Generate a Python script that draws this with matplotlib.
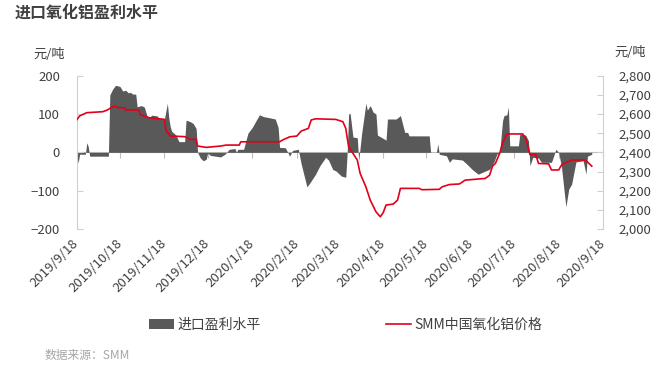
import matplotlib
matplotlib.use('Agg')
import matplotlib.pyplot as plt
import matplotlib.dates as mdates
from matplotlib.ticker import FuncFormatter, NullFormatter
import pandas as pd

plt.rcParams['font.family'] = ['Noto Sans CJK SC', 'DejaVu Sans']

# 进口盈利水平 (元/吨)
profit_dates = ['2019-09-18', '2019-09-19', '2019-09-20', '2019-09-24', '2019-09-25', '2019-09-26', '2019-09-27',
                '2019-10-10', '2019-10-11', '2019-10-13', '2019-10-15', '2019-10-18', '2019-10-20', '2019-10-22',
                '2019-10-24', '2019-10-25', '2019-10-27', '2019-10-29', '2019-10-30', '2019-11-02', '2019-11-04',
                '2019-11-06', '2019-11-08', '2019-11-09', '2019-11-13', '2019-11-14', '2019-11-18', '2019-11-20',
                '2019-11-21', '2019-11-22', '2019-11-23', '2019-11-26', '2019-11-28', '2019-12-02', '2019-12-03',
                '2019-12-06', '2019-12-08', '2019-12-10', '2019-12-11', '2019-12-13', '2019-12-15', '2019-12-17',
                '2019-12-18', '2019-12-20', '2019-12-27', '2019-12-30', '2020-01-02', '2020-01-06', '2020-01-07',
                '2020-01-08', '2020-01-12', '2020-01-15', '2020-01-18', '2020-01-21', '2020-01-23', '2020-01-26',
                '2020-01-29', '2020-02-03', '2020-02-05', '2020-02-06', '2020-02-10', '2020-02-13', '2020-02-15',
                '2020-02-19', '2020-02-21', '2020-02-25', '2020-02-27', '2020-03-02', '2020-03-05', '2020-03-09',
                '2020-03-11', '2020-03-14', '2020-03-16', '2020-03-20', '2020-03-23', '2020-03-24', '2020-03-25',
                '2020-03-26', '2020-03-28', '2020-03-31', '2020-04-01', '2020-04-03', '2020-04-06', '2020-04-07',
                '2020-04-09', '2020-04-11', '2020-04-13', '2020-04-14', '2020-04-20', '2020-04-21', '2020-04-27',
                '2020-04-30', '2020-05-03', '2020-05-05', '2020-05-06', '2020-05-20', '2020-05-21', '2020-05-25',
                '2020-05-26', '2020-05-27', '2020-06-01', '2020-06-03', '2020-06-05', '2020-06-12', '2020-06-15',
                '2020-06-19', '2020-06-23', '2020-06-26', '2020-07-01', '2020-07-04', '2020-07-06', '2020-07-08',
                '2020-07-10', '2020-07-11', '2020-07-13', '2020-07-14', '2020-07-15', '2020-07-21', '2020-07-22',
                '2020-07-26', '2020-07-28', '2020-07-29', '2020-07-31', '2020-08-04', '2020-08-06', '2020-08-13',
                '2020-08-15', '2020-08-16', '2020-08-18', '2020-08-20', '2020-08-23', '2020-08-25', '2020-08-27',
                '2020-08-30', '2020-09-04', '2020-09-06', '2020-09-07', '2020-09-10']
profit = [-5, -28, -5, -5, 25, 15, -10,
          -10, 150, 165, 175, 172, 160, 162,
          155, 157, 152, 152, 119, 122, 118,
          93, 92, 97, 95, 89, 88, 128,
          90, 67, 55, 45, 28, 28, 84,
          80, 75, 62, 0, -15, -22, -18,
          -2, -8, -12, -5, 8, 10, 0,
          8, 8, 50, 65, 85, 98, 93,
          91, 87, 65, 13, 12, -10, 5,
          8, -30, -90, -80, -57, -35, -13,
          -20, -45, -48, -62, -65, 0, 100,
          102, 40, 38, -22, 48, 128, 110,
          122, 105, 100, 45, 32, 87, 87,
          96, 52, 52, 43, 43, 0, 0,
          22, -5, -9, -26, -17, -20, -30,
          -45, -57, -52, -44, -25, -5, 0,
          83, 96, 98, 119, 17, 17, 48,
          45, 30, -35, -13, -15, -26, -26,
          -4, 8, 0, -40, -142, -96, -83,
          -25, -22, -57, -10, -5]

# SMM中国氧化铝价格 (元/吨)
price_dates = ['2019-09-18', '2019-09-20', '2019-09-25', '2019-10-06', '2019-10-09', '2019-10-14', '2019-10-17',
               '2019-10-21', '2019-10-22', '2019-10-31', '2019-11-01', '2019-11-05', '2019-11-08', '2019-11-18',
               '2019-11-19', '2019-11-22', '2019-12-02', '2019-12-06', '2019-12-10', '2019-12-11', '2019-12-17',
               '2019-12-27', '2019-12-31', '2020-01-09', '2020-01-10', '2020-02-06', '2020-02-08', '2020-02-13',
               '2020-02-18', '2020-02-21', '2020-02-26', '2020-02-28', '2020-03-02', '2020-03-16', '2020-03-21',
               '2020-03-23', '2020-03-25', '2020-03-28', '2020-03-31', '2020-04-02', '2020-04-06', '2020-04-09',
               '2020-04-13', '2020-04-16', '2020-04-18', '2020-04-20', '2020-04-25', '2020-04-28', '2020-04-30',
               '2020-05-13', '2020-05-15', '2020-05-27', '2020-05-29', '2020-06-03', '2020-06-10', '2020-06-14',
               '2020-06-28', '2020-07-01', '2020-07-03', '2020-07-05', '2020-07-08', '2020-07-10', '2020-07-13',
               '2020-07-24', '2020-07-26', '2020-07-28', '2020-07-29', '2020-08-02', '2020-08-04', '2020-08-11',
               '2020-08-13', '2020-08-18', '2020-08-20', '2020-08-23', '2020-08-27', '2020-09-05', '2020-09-07',
               '2020-09-10']
price = [2569, 2590, 2607, 2612, 2620, 2642, 2633,
         2633, 2621, 2621, 2598, 2586, 2580, 2572,
         2516, 2485, 2482, 2468, 2468, 2433, 2426,
         2433, 2438, 2438, 2455, 2455, 2464, 2481,
         2485, 2511, 2525, 2569, 2575, 2572, 2560,
         2525, 2429, 2395, 2360, 2290, 2220, 2151,
         2090, 2064, 2085, 2125, 2130, 2151, 2212,
         2212, 2205, 2207, 2220, 2232, 2235, 2255,
         2264, 2281, 2328, 2342, 2395, 2447, 2496,
         2496, 2473, 2420, 2389, 2389, 2342, 2340,
         2308, 2308, 2334, 2346, 2360, 2360, 2350,
         2328]

tick_dates = ['2019-09-18', '2019-10-18', '2019-11-18', '2019-12-18', '2020-01-18', '2020-02-18', '2020-03-18',
              '2020-04-18', '2020-05-18', '2020-06-18', '2020-07-18', '2020-08-18', '2020-09-18']

pd_profit = pd.to_datetime(profit_dates)
pd_price = pd.to_datetime(price_dates)
pd_ticks = pd.to_datetime(tick_dates)

grey = '#595959'
red = '#e2001a'
txt = '#404040'
axc = '#d0d0d0'

fig = plt.figure(figsize=(6.62, 3.68), dpi=100)
ax = fig.add_axes([0.1159, 0.3777, 0.7954, 0.4166])
ax2 = ax.twinx()

area = ax.fill_between(pd_profit, profit, 0, color=grey, linewidth=0, label='进口盈利水平')
line, = ax2.plot(pd_price, price, color=red, linewidth=1.2, label='SMM中国氧化铝价格')

ax.set_xlim(pd_ticks[0], pd_ticks[-1])
ax.set_ylim(-200, 200)
ax.set_yticks([-200, -100, 0, 100, 200])
ax2.set_ylim(2000, 2800)
ax2.set_yticks(range(2000, 2801, 100))
ax2.yaxis.set_major_formatter(FuncFormatter(lambda v, p: '{:,.0f}'.format(v)))

ax.set_xticks(pd_ticks)
ax.set_xticklabels([d.strftime('%Y/%-m/%-d') for d in pd_ticks], rotation=45, ha='right',
                   va='center', rotation_mode='anchor', fontsize=9.5, color=txt)
ax.tick_params(axis='x', length=0, pad=9)

for s in ['top', 'bottom', 'right']:
    ax.spines[s].set_visible(False)
for s in ['top', 'bottom', 'left']:
    ax2.spines[s].set_visible(False)
ax.spines['left'].set_color(axc)
ax2.spines['right'].set_color(axc)

ax.tick_params(axis='y', direction='in', length=4, color=axc, labelcolor=txt, labelsize=9.5, pad=12)
ax2.tick_params(axis='y', direction='in', length=4, color=axc, labelcolor=txt, labelsize=9.5, pad=11)

# category axis crossing at zero
zero_ax = ax.secondary_xaxis(0.5)
zero_ax.set_xticks(pd_ticks)
zero_ax.xaxis.set_major_formatter(NullFormatter())
zero_ax.tick_params(axis='x', direction='in', length=4, color='#bfbfbf',
                    labelbottom=False, labeltop=False)
for s in zero_ax.spines.values():
    s.set_color('#bfbfbf')

fig.text(15 / 662, 1 - 13 / 368, '进口氧化铝盈利水平', fontsize=11.5, fontweight='bold', color=txt, va='center')
fig.text(49 / 662, 1 - 54 / 368, '元/吨', fontsize=9.5, color=txt, ha='center', va='center')
fig.text(630 / 662, 1 - 53 / 368, '元/吨', fontsize=9.5, color=txt, ha='center', va='center')
fig.text(45 / 662, 1 - 355 / 368, '数据来源：SMM', fontsize=8.5, color='#a6a6a6', style='italic', va='center')

fig.legend(handles=[area, line], loc='center', bbox_to_anchor=(346 / 662, 1 - 325 / 368), ncol=2,
           frameon=False, fontsize=10, handlelength=1.8, handletextpad=0.25, columnspacing=9.0,
           labelcolor=txt)

fig.savefig('out.png', dpi=100)
